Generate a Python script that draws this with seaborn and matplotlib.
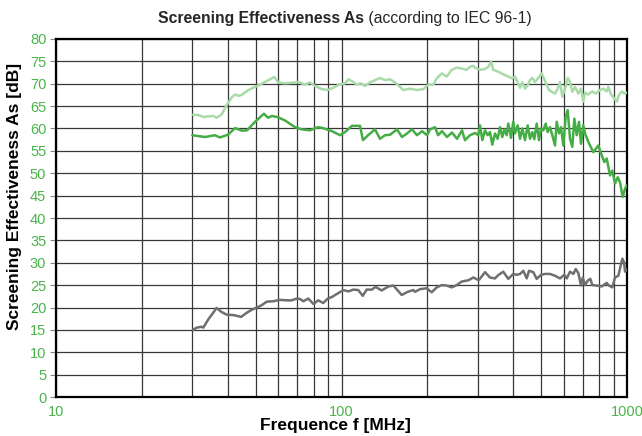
import matplotlib
matplotlib.use("Agg")
import matplotlib.pyplot as plt
import pandas as pd
import seaborn as sns
from matplotlib.ticker import FixedLocator, FixedFormatter, NullFormatter

# ---- data (frequency MHz, screening effectiveness dB) ----
SERIES_NAMES = ["upper", "middle", "lower"]

UPPER = [(30.2, 63.1), (31.5, 63.0), (32.8, 62.6), (34.2, 62.7), (35.6, 62.8), (36.5, 62.4),
         (38.0, 63.1), (39.6, 65.2), (41.2, 66.9), (42.4, 67.6), (43.5, 67.3), (44.7, 67.5),
         (47.2, 68.6), (49.8, 69.3), (51.8, 69.8), (54.7, 70.6), (58.2, 71.5), (60.0, 70.3),
         (63.4, 70.1), (66.9, 70.2), (70.6, 70.4), (74.5, 69.8), (77.6, 70.3), (80.8, 69.5),
         (85.2, 68.8), (89.5, 68.6), (93.6, 69.1), (98.0, 69.8), (102.9, 70.1), (105.8, 71.0),
         (110.0, 70.4), (113.0, 69.8), (117.0, 70.1), (120.9, 69.5), (125.9, 70.3), (131.0, 70.8),
         (136.4, 71.3), (142.1, 70.8), (147.9, 71.0), (154.0, 70.3), (160.3, 69.3), (164.6, 68.6),
         (173.8, 68.9), (183.8, 68.6), (193.6, 68.8), (201.5, 69.8), (209.8, 69.8), (215.6, 71.2),
         (224.4, 72.3), (233.6, 71.6), (243.2, 73.1), (253.2, 73.6), (263.7, 73.4), (274.5, 73.1),
         (281.9, 73.8), (289.5, 74.0), (293.5, 73.6), (305.6, 73.1), (318.2, 73.3), (326.8, 73.8),
         (334.2, 74.9), (340.0, 73.1), (354.1, 72.7), (368.7, 72.1), (383.9, 71.6), (396.6, 71.2),
         (405.2, 71.6), (414.2, 70.3), (421.9, 69.1), (429.8, 70.3), (439.3, 68.9), (448.9, 69.7),
         (457.3, 70.8), (465.9, 71.3), (476.2, 70.4), (489.1, 71.3), (502.8, 72.3), (513.3, 71.0),
         (523.3, 69.7), (533.0, 68.6), (544.8, 68.2), (559.5, 67.8), (571.9, 68.9), (582.6, 70.4),
         (593.6, 67.1), (606.6, 68.9), (619.9, 71.3), (631.6, 70.4), (643.4, 68.2), (657.5, 69.3),
         (675.3, 67.8), (690.2, 68.9), (703.1, 66.0), (712.8, 68.0), (732.0, 67.6), (755.1, 68.3),
         (777.1, 67.8), (804.5, 68.6), (826.6, 68.9), (849.2, 68.3), (860.3, 69.3), (879.2, 67.6),
         (902.9, 66.7), (920.7, 66.0), (937.8, 67.5), (958.8, 68.3), (979.0, 67.8), (997.6, 68.0)]

MIDDLE = [(30.0, 58.5), (33.3, 58.1), (36.0, 58.5), (37.5, 58.0), (40.0, 58.6), (42.4, 60.1),
          (44.8, 59.5), (46.7, 59.6), (49.8, 61.5), (53.5, 63.3), (55.3, 62.4), (57.1, 62.8),
          (59.9, 62.5), (63.4, 61.8), (68.7, 60.3), (72.7, 59.8), (77.6, 59.6), (82.7, 60.3),
          (86.1, 60.1), (92.6, 59.4), (98.8, 58.5), (102.9, 59.2), (108.8, 60.6), (116.1, 60.6),
          (118.9, 57.4), (123.9, 58.5), (131.0, 59.8), (136.4, 57.7), (142.1, 58.5), (147.9, 58.6),
          (156.5, 59.8), (162.9, 58.1), (169.6, 58.9), (176.6, 59.8), (183.8, 58.5), (191.5, 59.4),
          (199.3, 58.5), (204.2, 59.8), (212.6, 60.3), (217.8, 58.5), (224.9, 59.4), (234.1, 58.1),
          (243.8, 59.1), (253.9, 57.7), (264.3, 59.6), (270.7, 57.4), (281.9, 58.5), (293.5, 59.0),
          (301.4, 58.5), (305.6, 60.7), (311.3, 57.4), (318.2, 59.6), (325.1, 58.5), (331.2, 59.2),
          (337.4, 56.4), (344.8, 58.9), (352.4, 57.7), (359.0, 60.3), (365.8, 58.1), (371.7, 59.8),
          (379.0, 58.5), (383.9, 61.1), (392.4, 57.9), (399.7, 61.5), (405.2, 58.9), (414.2, 60.7),
          (421.9, 57.7), (429.8, 60.0), (439.3, 57.4), (448.9, 60.7), (457.3, 57.7), (465.9, 59.2),
          (473.5, 57.6), (482.7, 61.1), (491.8, 57.4), (499.8, 60.0), (509.1, 59.6), (519.1, 61.1),
          (527.5, 59.2), (537.4, 60.3), (547.5, 58.5), (559.5, 56.2), (567.3, 61.5), (577.9, 58.9),
          (587.3, 60.3), (598.3, 56.2), (610.0, 62.6), (619.9, 64.1), (631.6, 57.7), (643.4, 55.9),
          (653.9, 62.2), (666.6, 58.5), (679.1, 61.5), (690.2, 56.6), (703.1, 60.7), (712.8, 58.9),
          (732.0, 57.0), (762.1, 54.7), (793.5, 56.2), (815.6, 54.0), (832.9, 52.5), (849.2, 53.3),
          (872.0, 49.5), (888.4, 50.6), (907.9, 47.7), (927.7, 49.1), (945.1, 48.0), (965.9, 44.7),
          (984.0, 46.5), (997.6, 47.3)]

LOWER = [(30.2, 15.0), (31.1, 15.5), (32.4, 15.7), (32.8, 15.5), (34.2, 17.4), (35.6, 18.9),
         (36.5, 19.9), (38.0, 19.0), (39.6, 18.4), (41.9, 18.3), (44.5, 17.9), (46.5, 18.8),
         (48.5, 19.5), (50.5, 20.0), (52.5, 20.5), (54.7, 21.3), (57.7, 21.4), (60.9, 21.7),
         (64.3, 21.6), (66.9, 21.6), (69.7, 22.0), (71.6, 21.9), (73.5, 21.4), (76.5, 22.0),
         (79.7, 20.8), (82.9, 21.6), (86.3, 21.0), (89.5, 22.0), (92.3, 22.3), (96.2, 23.0),
         (101.5, 23.9), (105.8, 23.6), (110.0, 24.0), (114.5, 23.9), (118.7, 22.6), (122.5, 24.0),
         (127.6, 24.0), (131.7, 24.6), (138.3, 23.8), (145.9, 24.7), (152.0, 24.9), (162.5, 22.8),
         (170.5, 23.5), (178.5, 23.9), (180.9, 23.5), (188.4, 24.1), (198.8, 24.3), (206.9, 23.4),
         (215.6, 24.5), (224.4, 25.0), (233.6, 24.9), (243.2, 24.5), (253.2, 25.0), (263.7, 25.8),
         (278.7, 26.1), (289.5, 26.7), (302.7, 26.1), (318.2, 27.9), (331.2, 26.7), (344.8, 26.5),
         (355.0, 27.3), (368.7, 28.0), (383.9, 26.4), (399.7, 27.5), (410.8, 27.3), (421.9, 27.5),
         (433.4, 28.2), (445.4, 26.5), (453.7, 28.2), (469.7, 27.9), (482.7, 26.4), (499.8, 27.3),
         (516.2, 27.5), (537.4, 27.5), (559.5, 27.1), (582.6, 26.5), (603.2, 27.3), (615.0, 26.5),
         (631.6, 28.0), (649.0, 27.5), (661.3, 28.6), (675.3, 27.7), (690.2, 24.9), (700.1, 26.7),
         (712.8, 25.0), (728.5, 26.0), (744.0, 26.4), (756.2, 25.0), (784.4, 24.9), (815.6, 24.7),
         (849.2, 25.5), (864.5, 24.9), (888.4, 24.5), (908.0, 26.7), (932.8, 27.1), (953.1, 29.7),
         (963.3, 30.9), (976.5, 30.1), (984.4, 28.0), (997.6, 28.6)]

Y_TICKS = list(range(0, 81, 5))
X_MAJOR = [10, 100, 1000]
X_MAJOR_LABELS = ["10", "100", "1000"]
X_MINOR = [20, 30, 40, 50, 60, 70, 80, 90, 200, 300, 400, 500, 600, 700, 800, 900]

TITLE_BOLD = "Screening Effectiveness As"
TITLE_REST = " (according to IEC 96-1)"
X_LABEL = "Frequence f [MHz]"
Y_LABEL = "Screening Effectiveness As [dB]"

# ---- build long-form table ----
frames = []
for name, pts in zip(SERIES_NAMES, [UPPER, MIDDLE, LOWER]):
    d = pd.DataFrame(pts, columns=["freq", "db"])
    d["series"] = name
    frames.append(d)
df = pd.concat(frames, ignore_index=True)

palette = {"upper": "#a9dba9", "middle": "#45ad45", "lower": "#6f6f6f"}
GREEN_TXT = "#4ab44a"

sns.set_style("white")
plt.rcParams["font.family"] = ["Liberation Sans", "DejaVu Sans"]

fig = plt.figure(figsize=(6.42, 4.36), dpi=100)
ax = fig.add_axes([56 / 642, 1 - 397 / 436, (627 - 56) / 642, (397 - 39) / 436])

sns.lineplot(data=df, x="freq", y="db", hue="series", palette=palette,
             estimator=None, sort=False, units="series", linewidth=1.8,
             legend=False, ax=ax, zorder=3)

ax.set_xscale("log")
ax.set_xlim(10, 1000)
ax.set_ylim(0, 80)
ax.set_yticks(Y_TICKS)
ax.xaxis.set_major_locator(FixedLocator(X_MAJOR))
ax.xaxis.set_major_formatter(FixedFormatter(X_MAJOR_LABELS))
ax.xaxis.set_minor_locator(FixedLocator(X_MINOR))
ax.xaxis.set_minor_formatter(NullFormatter())

ax.grid(True, which="both", axis="x", color="#383838", linewidth=0.9, zorder=1)
ax.grid(True, which="major", axis="y", color="#383838", linewidth=0.9, zorder=1)
ax.set_axisbelow(True)

for s in ax.spines.values():
    s.set_visible(True)
    s.set_color("black")
    s.set_linewidth(1.6)

ax.tick_params(axis="y", which="major", direction="out", length=4, width=0.8,
               color="#888888", labelcolor=GREEN_TXT, labelsize=10.5, pad=3, left=True)
ax.tick_params(axis="x", which="both", length=0, labelcolor=GREEN_TXT, labelsize=10.5, pad=6)

ax.set_xlabel(X_LABEL, fontsize=12.5, fontweight="bold", color="black")
ax.set_ylabel(Y_LABEL, fontsize=12.5, fontweight="bold", color="black")
ax.xaxis.set_label_coords(0.49, -0.06)
ax.yaxis.set_label_coords(-0.06, 0.56)

t1 = fig.text(158 / 642, 1 - 18 / 436, TITLE_BOLD, fontsize=11.3, fontweight="bold",
              ha="left", va="center")
ax.annotate(TITLE_REST, xy=(1, 0), xycoords=t1, ha="left", va="bottom",
            fontsize=11.3, annotation_clip=False)

fig.savefig("out.png", dpi=100)
